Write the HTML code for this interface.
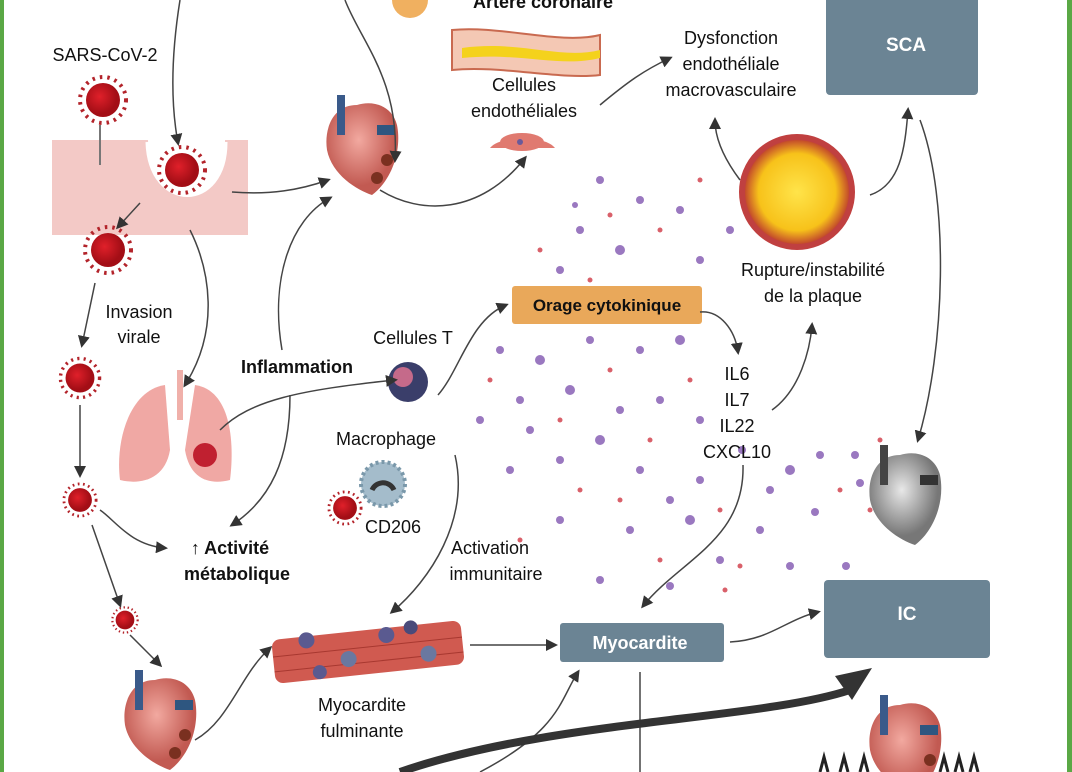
<!DOCTYPE html>
<html><head><meta charset="utf-8"><style>
body{margin:0;width:1072px;height:772px;overflow:hidden;background:#fff;font-family:"Liberation Sans",sans-serif}
svg{position:absolute;left:0;top:0}
</style></head><body>
<svg width="1072" height="772" viewBox="0 0 1072 772" xmlns="http://www.w3.org/2000/svg">
<defs>
<marker id="a" markerWidth="8" markerHeight="8" refX="6" refY="4" orient="auto"><path d="M0,0 L8,4 L0,8z" fill="#333"/></marker>
<radialGradient id="v" cx="0.4" cy="0.4"><stop offset="0" stop-color="#e0202a"/><stop offset="1" stop-color="#a30e16"/></radialGradient>
<radialGradient id="h" cx="0.45" cy="0.4"><stop offset="0" stop-color="#f2a9a0"/><stop offset="1" stop-color="#c25a52"/></radialGradient>
<radialGradient id="g" cx="0.45" cy="0.4"><stop offset="0" stop-color="#e8e8e8"/><stop offset="1" stop-color="#777"/></radialGradient>
<radialGradient id="p" cx="0.5" cy="0.5"><stop offset="0" stop-color="#ffe44a"/><stop offset="0.7" stop-color="#f7c21a"/><stop offset="1" stop-color="#b8312e"/></radialGradient>
<g id="vir"><circle r="23" fill="none" stroke="#b3232a" stroke-width="4" stroke-dasharray="2.5 5"/><circle r="17" fill="url(#v)"/></g>
<g id="heart"><path d="M-5,-35 C-30,-35 -38,-10 -35,10 C-30,35 -5,50 10,55 C30,40 40,10 35,-15 C30,-35 10,-40 -5,-35z" fill="url(#h)"/><rect x="-25" y="-45" width="8" height="40" fill="#3a5a8a"/><rect x="15" y="-15" width="18" height="10" fill="#2e5680"/><circle cx="25" cy="20" r="6" fill="#7a3020"/><circle cx="15" cy="38" r="6" fill="#7a3020"/></g>
</defs>
<rect x="0" y="0" width="4" height="772" fill="#5aa845"/>
<rect x="1067" y="0" width="5" height="772" fill="#5aa845"/>
<g fill="#9a78c0">
<circle cx="600" cy="180" r="4"/><circle cx="640" cy="200" r="4"/><circle cx="580" cy="230" r="4"/><circle cx="620" cy="250" r="5"/><circle cx="680" cy="210" r="4"/><circle cx="700" cy="260" r="4"/><circle cx="560" cy="270" r="4"/><circle cx="500" cy="350" r="4"/><circle cx="540" cy="360" r="5"/><circle cx="590" cy="340" r="4"/><circle cx="640" cy="350" r="4"/><circle cx="680" cy="340" r="5"/><circle cx="520" cy="400" r="4"/><circle cx="570" cy="390" r="5"/><circle cx="620" cy="410" r="4"/><circle cx="660" cy="400" r="4"/><circle cx="600" cy="440" r="5"/><circle cx="560" cy="460" r="4"/><circle cx="640" cy="470" r="4"/><circle cx="510" cy="470" r="4"/><circle cx="700" cy="480" r="4"/><circle cx="690" cy="520" r="5"/><circle cx="630" cy="530" r="4"/><circle cx="770" cy="490" r="4"/><circle cx="790" cy="470" r="5"/><circle cx="820" cy="455" r="4"/><circle cx="855" cy="455" r="4"/><circle cx="760" cy="530" r="4"/><circle cx="815" cy="512" r="4"/><circle cx="790" cy="566" r="4"/><circle cx="720" cy="560" r="4"/><circle cx="670" cy="586" r="4"/><circle cx="742" cy="450" r="4"/><circle cx="600" cy="580" r="4"/><circle cx="560" cy="520" r="4"/><circle cx="700" cy="420" r="4"/><circle cx="480" cy="420" r="4"/><circle cx="730" cy="230" r="4"/><circle cx="660" cy="290" r="4"/><circle cx="860" cy="483" r="4"/><circle cx="846" cy="566" r="4"/><circle cx="620" cy="300" r="4"/><circle cx="575" cy="205" r="3"/><circle cx="530" cy="430" r="4"/><circle cx="670" cy="500" r="4"/>
</g>
<g fill="#d9606a">
<circle cx="610" cy="215" r="2.5"/><circle cx="660" cy="230" r="2.5"/><circle cx="590" cy="280" r="2.5"/><circle cx="530" cy="320" r="2.5"/><circle cx="610" cy="370" r="2.5"/><circle cx="560" cy="420" r="2.5"/><circle cx="650" cy="440" r="2.5"/><circle cx="690" cy="380" r="2.5"/><circle cx="580" cy="490" r="2.5"/><circle cx="620" cy="500" r="2.5"/><circle cx="720" cy="510" r="2.5"/><circle cx="740" cy="566" r="2.5"/><circle cx="725" cy="590" r="2.5"/><circle cx="840" cy="490" r="2.5"/><circle cx="870" cy="510" r="2.5"/><circle cx="700" cy="180" r="2.5"/><circle cx="540" cy="250" r="2.5"/><circle cx="490" cy="380" r="2.5"/><circle cx="520" cy="540" r="2.5"/><circle cx="660" cy="560" r="2.5"/><circle cx="880" cy="440" r="2.5"/>
</g>
<rect x="826" y="-5" width="152" height="100" rx="4" fill="#6b8494"/>
<text x="906" y="51" fill="#fff" font-weight="bold" font-size="19" text-anchor="middle">SCA</text>
<rect x="824" y="580" width="166" height="78" rx="4" fill="#6b8494"/>
<text x="907" y="620" fill="#fff" font-weight="bold" font-size="19" text-anchor="middle">IC</text>
<rect x="560" y="623" width="164" height="39" rx="3" fill="#6b8494"/>
<text x="640" y="649" fill="#fff" font-weight="bold" font-size="18" text-anchor="middle">Myocardite</text>
<rect x="512" y="286" width="190" height="38" rx="3" fill="#e9a85a"/>
<text x="607" y="311" fill="#111" font-weight="bold" font-size="17" text-anchor="middle">Orage cytokinique</text>
<path d="M52,140 H148 C150,215 225,215 225,140 H248 V235 H52z" fill="#f3c9c6"/>
<path d="M148,142 C150,212 225,212 225,142" fill="none" stroke="#fff" stroke-width="5"/>
<line x1="100" y1="125" x2="100" y2="165" stroke="#777" stroke-width="2"/>
<use href="#vir" x="103" y="100"/><use href="#vir" x="182" y="170"/><use href="#vir" x="108" y="250"/>
<g transform="translate(80,378) scale(.85)"><use href="#vir"/></g>
<g transform="translate(80,500) scale(.7)"><use href="#vir"/></g>
<g transform="translate(125,620) scale(.55)"><use href="#vir"/></g>
<g transform="translate(345,508) scale(.7)"><use href="#vir"/></g>
<use href="#heart" x="362" y="140"/>
<use href="#heart" x="160" y="715"/>
<use href="#heart" x="905" y="740"/>
<g transform="translate(905,490)"><path d="M-5,-35 C-30,-35 -38,-10 -35,10 C-30,35 -5,50 10,55 C30,40 40,10 35,-15 C30,-35 10,-40 -5,-35z" fill="url(#g)"/><rect x="-25" y="-45" width="8" height="40" fill="#444"/><rect x="15" y="-15" width="18" height="10" fill="#333"/></g>
<path d="M165,385 C130,390 115,440 120,480 C140,485 165,480 170,450z" fill="#f0a8a4"/>
<path d="M195,385 C230,390 235,440 230,480 C210,485 190,480 185,450z" fill="#f0a8a4"/>
<circle cx="205" cy="455" r="12" fill="#c02030"/>
<rect x="177" y="370" width="6" height="50" fill="#f0b0aa"/>
<path d="M452,30 C500,25 560,45 600,35 V75 C560,80 500,65 452,70z" fill="#f4c8b4" stroke="#c96a50" stroke-width="2"/>
<path d="M462,48 C520,40 560,60 600,50 V58 C560,68 520,52 462,58z" fill="#f4d21c"/>
<path d="M490,148 C500,135 545,135 555,148z" fill="#e07a70"/><ellipse cx="522" cy="142" rx="22" ry="9" fill="#e07a70"/><circle cx="520" cy="142" r="3" fill="#6a5a9a"/>
<circle cx="410" cy="0" r="18" fill="#f0b060"/>
<circle cx="797" cy="192" r="55" fill="url(#p)"/>
<circle cx="797" cy="192" r="55" fill="none" stroke="#c04040" stroke-width="6"/>
<circle cx="408" cy="382" r="20" fill="#3a3e6a"/><circle cx="403" cy="377" r="10" fill="#c56a8a"/>
<circle cx="383" cy="484" r="22" fill="#a4bccb" stroke="#7a98aa" stroke-width="4" stroke-dasharray="3 3"/><path d="M372,490 a12,12 0 0 1 22,0" fill="none" stroke="#333" stroke-width="5"/>
<g transform="translate(368,652) rotate(-6)"><rect x="-95" y="-22" width="190" height="44" rx="8" fill="#d05a50"/><line x1="-95" y1="-5" x2="95" y2="-5" stroke="#a83830"/><line x1="-95" y1="10" x2="95" y2="10" stroke="#a83830"/>
<circle cx="-60" cy="-18" r="8" fill="#5a5a90"/><circle cx="-20" cy="5" r="8" fill="#6a78a0"/><circle cx="20" cy="-15" r="8" fill="#5a5a90"/><circle cx="60" cy="8" r="8" fill="#6a78a0"/><circle cx="-50" cy="15" r="7" fill="#5a5a90"/><circle cx="45" cy="-20" r="7" fill="#4a4a7a"/></g>
<path d="M820,772 l4,-15 l4,15 M840,772 l4,-15 l4,15 M860,772 l4,-15 l4,15 M940,772 l4,-15 l4,15 M955,772 l4,-15 l4,15 M970,772 l4,-15 l4,15" stroke="#222" stroke-width="3" fill="none"/>
<g fill="none" stroke="#444" stroke-width="1.5" marker-end="url(#a)">
<path d="M180,0 C172,50 170,100 178,143"/>
<path d="M345,0 C360,40 400,80 395,160" marker-end=""/>
<path d="M232,192 C270,195 300,190 328,180"/>
<path d="M380,190 C420,215 480,215 525,158"/>
<path d="M600,105 C630,80 645,70 670,58"/>
<path d="M140,203 L118,227"/>
<path d="M95,283 L82,345"/>
<path d="M80,405 L80,475"/>
<path d="M190,230 C210,270 220,330 185,385"/>
<path d="M92,525 L120,605"/>
<path d="M100,510 C115,520 130,545 165,548"/>
<path d="M130,635 L160,665"/>
<path d="M195,740 C230,720 240,675 270,648"/>
<path d="M470,645 L555,645"/>
<path d="M282,350 C270,280 290,220 330,198"/>
<path d="M220,430 C250,400 300,390 395,380"/>
<path d="M290,395 C290,460 270,500 232,525"/>
<path d="M438,395 C460,370 470,320 506,305"/>
<path d="M455,455 C470,520 430,580 392,612"/>
<path d="M700,312 C720,310 735,330 738,352"/>
<path d="M743,465 C745,540 680,560 643,606"/>
<path d="M772,410 C800,390 810,350 812,325"/>
<path d="M740,180 C725,160 715,140 715,120"/>
<path d="M870,195 C900,185 905,150 908,110"/>
<path d="M920,120 C950,200 945,350 918,440"/>
<path d="M730,642 C770,640 785,620 818,612"/>
<path d="M480,772 C560,730 560,700 578,672"/>
</g>
<line x1="640" y1="672" x2="640" y2="772" stroke="#444" stroke-width="1.5"/>
<path d="M400,772 C550,720 760,720 850,690" fill="none" stroke="#333" stroke-width="8"/>
<path d="M835,676 L872,668 L852,700z" fill="#333"/>
<g font-size="18" fill="#111" text-anchor="middle">
<text x="105" y="61">SARS-CoV-2</text>
<text x="139" y="318">Invasion</text><text x="139" y="343">virale</text>
<text x="297" y="373" font-weight="bold">Inflammation</text>
<text x="413" y="344">Cellules T</text>
<text x="386" y="445">Macrophage</text>
<text x="393" y="533">CD206</text>
<text x="230" y="554" font-weight="bold">↑ Activité</text><text x="237" y="580" font-weight="bold">métabolique</text>
<text x="490" y="554">Activation</text><text x="496" y="580">immunitaire</text>
<text x="362" y="711">Myocardite</text><text x="362" y="737">fulminante</text>
<text x="543" y="8" font-weight="bold">Artère coronaire</text>
<text x="524" y="91">Cellules</text><text x="524" y="117">endothéliales</text>
<text x="731" y="44">Dysfonction</text><text x="731" y="70">endothéliale</text><text x="731" y="96">macrovasculaire</text>
<text x="813" y="276">Rupture/instabilité</text><text x="813" y="302">de la plaque</text>
<text x="737" y="380">IL6</text><text x="737" y="406">IL7</text><text x="737" y="432">IL22</text><text x="737" y="458">CXCL10</text>
</g>
</svg>
</body></html>
